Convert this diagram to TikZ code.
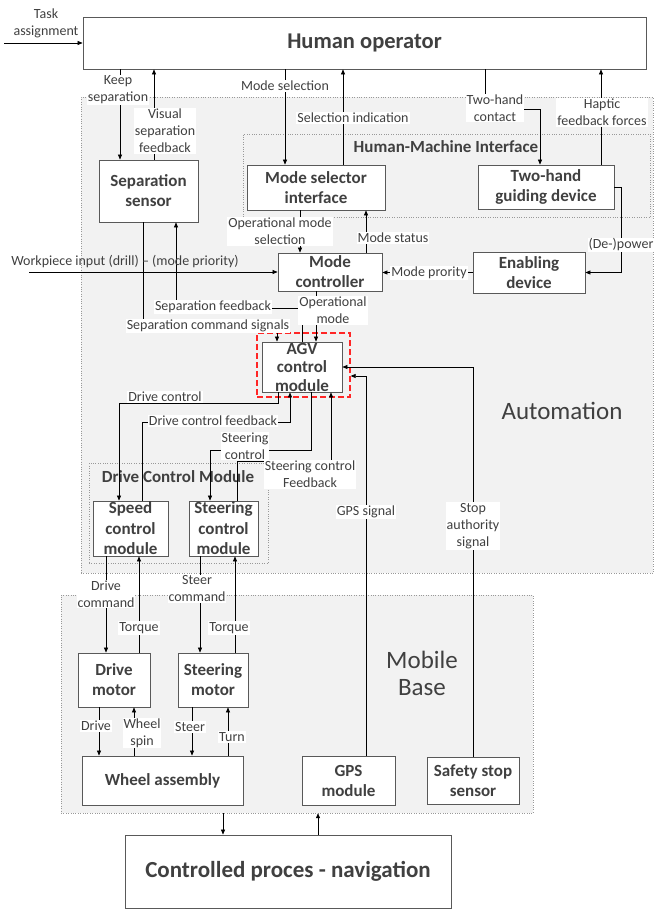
\documentclass[tikz,border=0pt]{standalone}
\usepackage{fontspec}
\setmainfont{Carlito}
\usetikzlibrary{arrows.meta, calc}

\begin{document}
\begin{tikzpicture}[
    x=1pt, y=-1pt,
    region/.style={rectangle, draw=black!40, dotted, fill=black!5, inner sep=0pt},
    block/.style={rectangle, draw=black!65, line width=0.8pt, fill=white, text=black!75, align=center, inner sep=0pt, font=\fontsize{17}{20}\selectfont\bfseries},
    regiontitle/.style={text=black!75, font=\fontsize{17}{20}\selectfont\bfseries},
    zone/.style={text=black!75, align=center, font=\fontsize{25}{27}\selectfont},
    lbl/.style={fill=white, text=black!75, align=center, inner sep=1pt, font=\fontsize{14}{17}\selectfont},
    arrow/.style={line width=0.6pt, -{Triangle[length=5pt,width=4pt]}},
]
    \useasboundingbox (0,0) rectangle (654,909);

    % Regions
    \node (automation) [region, minimum width=572pt, minimum height=476pt] at (367,335) {};
    \node (hmi) [region, minimum width=407pt, minimum height=83pt] at (446.5,175.5) {};
    \node (dcm) [region, minimum width=179pt, minimum height=100pt] at (178.5,513) {};
    \node (mobile) [region, minimum width=472pt, minimum height=218pt] at (297,704) {};

    \node (hmi_title) [regiontitle] at (446,147) {Human-Machine Interface};
    \node (dcm_title) [regiontitle] at (178,477) {Drive Control Module};
    \node (auto_title) [zone] at (562,411) {Automation};
    \node (base_title) [zone] at (422,673) {Mobile\\Base};

    % Operator and interface
    \node (human) [block, minimum width=563pt, minimum height=52pt, font=\fontsize{22.5}{26}\selectfont\bfseries] at (364.5,43) {Human operator};
    \node (sensor) [block, minimum width=99pt, minimum height=62pt] at (148.5,191) {Separation\\sensor};
    \node (modesel) [block, minimum width=138pt, minimum height=45pt] at (316,187.5) {Mode selector\\interface};
    \node (twohand) [block, minimum width=136pt, minimum height=44pt] at (546,187) {Two-hand\\guiding device};
    \node (modectrl) [block, minimum width=104pt, minimum height=38pt] at (330,272) {Mode\\controller};
    \node (enabling) [block, minimum width=112pt, minimum height=41pt] at (529,272.5) {Enabling\\device};

    % Control
    \node (agvzone) [draw=red!85, line width=1.3pt, dash pattern=on 6pt off 3pt, minimum width=93pt, minimum height=64pt, inner sep=0pt] at (303.5,365) {};
    \node (agv) [block, minimum width=80pt, minimum height=50pt, font=\fontsize{17}{18.5}\selectfont\bfseries] at (302,367) {AGV\\control\\module};
    \node (speed) [block, minimum width=75pt, minimum height=55pt, font=\fontsize{17}{20.5}\selectfont\bfseries] at (130.5,528.5) {Speed\\control\\module};
    \node (steerctl) [block, minimum width=69pt, minimum height=55pt, font=\fontsize{17}{20.5}\selectfont\bfseries] at (223.5,528.5) {Steering\\control\\module};

    % Mobile base
    \node (drivemotor) [block, minimum width=72pt, minimum height=54pt] at (114,680) {Drive\\motor};
    \node (steermotor) [block, minimum width=70pt, minimum height=54pt] at (213,680) {Steering\\motor};
    \node (wheel) [block, minimum width=161pt, minimum height=49pt] at (162.5,780.5) {Wheel assembly};
    \node (gps) [block, minimum width=93pt, minimum height=49pt] at (348.5,780.5) {GPS\\module};
    \node (safety) [block, minimum width=92pt, minimum height=47pt] at (473,780.5) {Safety stop\\sensor};
    \node (process) [block, minimum width=326pt, minimum height=73pt, font=\fontsize{23}{27}\selectfont\bfseries] at (288,871.5) {Controlled proces - navigation};

    \coordinate (taskin) at (4,43);
    \coordinate (wpin) at (29,272);

    % Operator links
    \draw [arrow] (taskin) -- (taskin -| human.west);
    \draw [arrow] ([xshift=-28.5pt]sensor.north |- human.south) -- ([xshift=-28.5pt]sensor.north);
    \draw [arrow] ([xshift=5.5pt]sensor.north) -- ([xshift=5.5pt]sensor.north |- human.south);
    \draw [arrow] ([xshift=-31pt]modesel.north |- human.south) -- ([xshift=-31pt]modesel.north);
    \draw [arrow] ([xshift=27pt]modesel.north) -- ([xshift=27pt]modesel.north |- human.south);
    \draw [arrow] ([xshift=-61pt]twohand.north |- human.south) -- ++(0,40) -| ([xshift=-6pt]twohand.north);
    \draw [arrow] ([xshift=55pt]twohand.north) -- ([xshift=55pt]twohand.north |- human.south);

    % Mode handling
    \draw [arrow] ([xshift=-16pt]modesel.south) -- ([xshift=-16pt]modesel.south |- modectrl.north);
    \draw [arrow] ([xshift=36pt]modectrl.north) -- ([xshift=36pt]modectrl.north |- modesel.south);
    \draw [arrow] (twohand.east) -- ++(7,0) |- (enabling.east);
    \draw [arrow] (enabling.west) -- (enabling.west -| modectrl.east);
    \draw [arrow] (wpin) -- (wpin -| modectrl.west);

    % AGV control module
    \draw [arrow] ([xshift=-5.5pt]sensor.south) -- ++(0,104) -| ([xshift=-25pt]agv.north);
    \draw [arrow] (agv.north) -- ++(0,-33) -| ([xshift=27.5pt]sensor.south);
    \draw [arrow] ([xshift=-14pt]modectrl.south) -- ([xshift=-14pt]modectrl.south |- agv.north);
    \draw [arrow] (safety.north) |- (agv.east);
    \draw [arrow] ([xshift=17.5pt]gps.north) |- ([yshift=-11pt]agvzone.east);
    \draw [arrow] ([xshift=-24pt]agv.south) -- ++(0,11) -| ([xshift=-11.5pt]speed.north);
    \draw [arrow] ([xshift=11.5pt]speed.north) -- ++(0,-78) -| ([xshift=-12pt]agv.south);
    \draw [arrow] ([xshift=9pt]agv.south) -- ++(0,58) -| ([xshift=-13.5pt]steerctl.north);
    \draw [arrow] ([xshift=13.5pt]steerctl.north) -- ++(0,-39) -| ([xshift=29pt]agv.south);

    % Motors and wheels
    \draw [arrow] ([xshift=-24.5pt]speed.south) -- ([xshift=-24.5pt]speed.south |- drivemotor.north);
    \draw [arrow] ([xshift=25pt]drivemotor.north) -- ([xshift=25pt]drivemotor.north |- speed.south);
    \draw [arrow] ([xshift=-23.5pt]steerctl.south) -- ([xshift=-23.5pt]steerctl.south |- steermotor.north);
    \draw [arrow] ([xshift=22pt]steermotor.north) -- ([xshift=22pt]steermotor.north |- steerctl.south);
    \draw [arrow] ([xshift=-15pt]drivemotor.south) -- ([xshift=-15pt]drivemotor.south |- wheel.north);
    \draw [arrow] ([xshift=20pt]drivemotor.south |- wheel.north) -- ([xshift=20pt]drivemotor.south);
    \draw [arrow] ([xshift=-21pt]steermotor.south) -- ([xshift=-21pt]steermotor.south |- wheel.north);
    \draw [arrow] ([xshift=15pt]steermotor.south |- wheel.north) -- ([xshift=15pt]steermotor.south);
    \draw [arrow] ([xshift=-65pt]process.north |- mobile.south) -- ([xshift=-65pt]process.north);
    \draw [arrow] ([xshift=30pt]process.north) -- ([xshift=30pt]process.north |- mobile.south);

    % Labels
    \node (task_lbl) [lbl, fill=none] at (46,23.5) {Task\\assignment};
    \node (keep_lbl) [lbl] at (118,90) {Keep\\separation};
    \node (visual_lbl) [lbl] at (165,131) {Visual\\separation\\feedback};
    \node (modesel_lbl) [lbl] at (285,86) {Mode selection};
    \node (selind_lbl) [lbl] at (353,118) {Selection indication};
    \node (contact_lbl) [lbl] at (495,108) {Two-hand\\contact};
    \node (haptic_lbl) [lbl] at (602,112.5) {Haptic\\feedback forces};
    \node (opsel_lbl) [lbl] at (280,231.5) {Operational mode\\selection};
    \node (status_lbl) [lbl] at (393,238) {Mode status};
    \node (power_lbl) [lbl] at (621,245) {(De-)power};
    \node (wp_lbl) [lbl, fill=none] at (125,262) {Workpiece input (drill) -- (mode priority)};
    \node (prio_lbl) [lbl] at (429,273) {Mode prority};
    \node (sepfb_lbl) [lbl] at (213,307) {Separation feedback};
    \node (sepcmd_lbl) [lbl] at (208,326) {Separation command signals};
    \node (opmode_lbl) [lbl] at (333,310.5) {Operational\\mode};
    \node (drivectl_lbl) [lbl] at (165,397) {Drive control};
    \node (drivefb_lbl) [lbl] at (213,421) {Drive control feedback};
    \node (steerctl_lbl) [lbl] at (245,446) {Steering\\control};
    \node (steerfb_lbl) [lbl] at (310,474.5) {Steering control\\Feedback};
    \node (gpssig_lbl) [lbl] at (366,512) {GPS signal};
    \node (stop_lbl) [lbl] at (473,526) {Stop\\authority\\signal};
    \node (drivecmd_lbl) [lbl] at (106,594) {Drive\\command};
    \node (torque1_lbl) [lbl] at (139,628) {Torque};
    \node (steercmd_lbl) [lbl] at (197,589) {Steer\\command};
    \node (torque2_lbl) [lbl] at (229,628) {Torque};
    \node (drive_lbl) [lbl] at (96,726) {Drive};
    \node (spin_lbl) [lbl] at (142,733) {Wheel\\spin};
    \node (steer_lbl) [lbl] at (190,727) {Steer};
    \node (turn_lbl) [lbl] at (232,737) {Turn};

\end{tikzpicture}
\end{document}
